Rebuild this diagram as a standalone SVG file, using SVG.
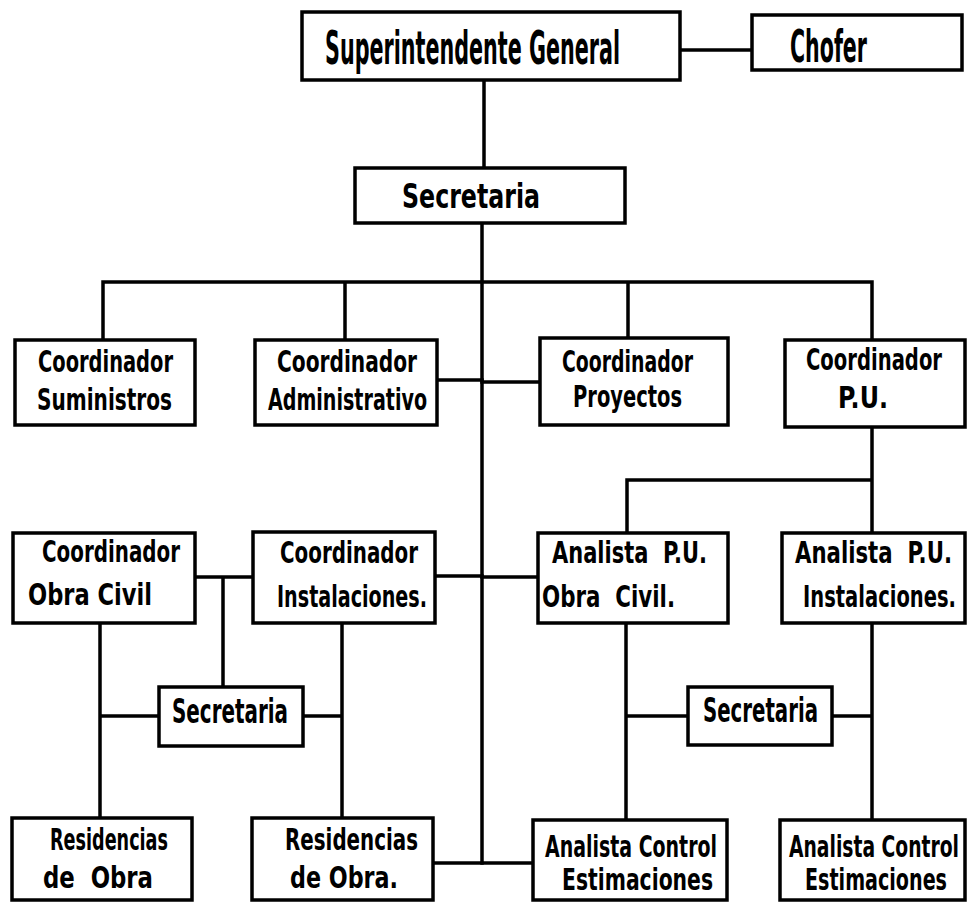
<svg xmlns="http://www.w3.org/2000/svg" width="967" height="904" viewBox="0 0 967 904">
<style>
.box{fill:#fff;stroke:#000;stroke-width:3.5}
.ln{fill:none;stroke:#000;stroke-width:3.5;stroke-linecap:square}
text{font-family:"DejaVu Sans Condensed","Liberation Sans",sans-serif;font-weight:bold;fill:#000}
.t{font-size:30px}
.tb{font-size:46px}
.tc{font-size:44px}
.ts{font-size:34px}
</style>
<rect width="967" height="904" fill="#fff"/>
<g id="connectors">
<path class="ln" d="M484 80 V168 M482 223 V863"/>
<path class="ln" d="M680 50 H752"/>
<path class="ln" d="M103 282 H872 M103 282 V340 M345 282 V340 M628 282 V338 M872 282 V340"/>
<path class="ln" d="M437 380 H482 M482 382 H540"/>
<path class="ln" d="M872 427 V533 M627 480 H872 M627 480 V533"/>
<path class="ln" d="M195 577 H253 M223 577 V687 M435 576 H482 M482 577 H538"/>
<path class="ln" d="M100 623 V818 M342 623 V818 M100 716 H159 M303 716 H342"/>
<path class="ln" d="M626 623 V820 M872 623 V820 M626 716 H688 M832 716 H872"/>
<path class="ln" d="M433 863 H533"/>
</g>
<g id="superintendente">
<rect class="box" x="302" y="12" width="378" height="68"/>
<text class="tb" transform="matrix(0.4933 0 0 1 325 64)" textLength="598" lengthAdjust="spacingAndGlyphs">Superintendente General</text>
</g>
<g id="chofer">
<rect class="box" x="752" y="15" width="210" height="55"/>
<text class="tc" transform="matrix(0.5203 0 0 1 790 62)" textLength="148" lengthAdjust="spacingAndGlyphs">Chofer</text>
</g>
<g id="secretaria-general">
<rect class="box" x="355" y="168" width="270" height="55"/>
<text class="ts" transform="matrix(0.7753 0 0 1 402 208)" textLength="178" lengthAdjust="spacingAndGlyphs">Secretaria</text>
</g>
<g id="coord-suministros">
<rect class="box" x="15" y="340" width="180" height="85"/>
<text class="t" transform="matrix(0.7219 0 0 1 38 372)" textLength="187" lengthAdjust="spacingAndGlyphs">Coordinador</text>
<text class="t" transform="matrix(0.7459 0 0 1 37 410)" textLength="181" lengthAdjust="spacingAndGlyphs">Suministros</text>
</g>
<g id="coord-administrativo">
<rect class="box" x="255" y="340" width="182" height="85"/>
<text class="t" transform="matrix(0.7487 0 0 1 277 372)" textLength="187" lengthAdjust="spacingAndGlyphs">Coordinador</text>
<text class="t" transform="matrix(0.7067 0 0 1 268 410)" textLength="225" lengthAdjust="spacingAndGlyphs">Administrativo</text>
</g>
<g id="coord-proyectos">
<rect class="box" x="540" y="338" width="188" height="87"/>
<text class="t" transform="matrix(0.7005 0 0 1 562 372)" textLength="187" lengthAdjust="spacingAndGlyphs">Coordinador</text>
<text class="t" transform="matrix(0.7219 0 0 1 573 407)" textLength="151" lengthAdjust="spacingAndGlyphs">Proyectos</text>
</g>
<g id="coord-pu">
<rect class="box" x="785" y="340" width="180" height="87"/>
<text class="t" transform="matrix(0.7273 0 0 1 806 370)" textLength="187" lengthAdjust="spacingAndGlyphs">Coordinador</text>
<text class="t" transform="matrix(0.8065 0 0 1 838 408)" textLength="62" lengthAdjust="spacingAndGlyphs">P.U.</text>
</g>
<g id="coord-obra-civil">
<rect class="box" x="13" y="533" width="182" height="90"/>
<text class="t" transform="matrix(0.738 0 0 1 42 562)" textLength="187" lengthAdjust="spacingAndGlyphs">Coordinador</text>
<text class="t" transform="matrix(0.8378 0 0 1 28 605)" textLength="148" lengthAdjust="spacingAndGlyphs">Obra Civil</text>
</g>
<g id="coord-instalaciones">
<rect class="box" x="253" y="532" width="182" height="91"/>
<text class="t" transform="matrix(0.738 0 0 1 280 563)" textLength="187" lengthAdjust="spacingAndGlyphs">Coordinador</text>
<text class="t" transform="matrix(0.7075 0 0 1 277 607)" textLength="212" lengthAdjust="spacingAndGlyphs">Instalaciones.</text>
</g>
<g id="analista-pu-obra-civil">
<rect class="box" x="538" y="533" width="190" height="90"/>
<text class="t" transform="matrix(0.7561 0 0 1 552 563)" textLength="205" lengthAdjust="spacingAndGlyphs" xml:space="preserve">Analista  P.U.</text>
<text class="t" transform="matrix(0.7917 0 0 1 542 607)" textLength="168" lengthAdjust="spacingAndGlyphs" xml:space="preserve">Obra  Civil.</text>
</g>
<g id="analista-pu-instalaciones">
<rect class="box" x="782" y="533" width="183" height="90"/>
<text class="t" transform="matrix(0.7659 0 0 1 795 563)" textLength="205" lengthAdjust="spacingAndGlyphs" xml:space="preserve">Analista  P.U.</text>
<text class="t" transform="matrix(0.7217 0 0 1 803 607)" textLength="212" lengthAdjust="spacingAndGlyphs">Instalaciones.</text>
</g>
<g id="secretaria-obra">
<rect class="box" x="159" y="687" width="144" height="59"/>
<text class="ts" transform="matrix(0.6517 0 0 1 172 723)" textLength="178" lengthAdjust="spacingAndGlyphs">Secretaria</text>
</g>
<g id="secretaria-pu">
<rect class="box" x="688" y="687" width="144" height="58"/>
<text class="ts" transform="matrix(0.6461 0 0 1 703 722)" textLength="178" lengthAdjust="spacingAndGlyphs">Secretaria</text>
</g>
<g id="residencias-1">
<rect class="box" x="12" y="818" width="180" height="82"/>
<text class="t" transform="matrix(0.6519 0 0 1 50 850)" textLength="181" lengthAdjust="spacingAndGlyphs">Residencias</text>
<text class="t" transform="matrix(0.8462 0 0 1 43 888)" textLength="130" lengthAdjust="spacingAndGlyphs" xml:space="preserve">de  Obra</text>
</g>
<g id="residencias-2">
<rect class="box" x="252" y="818" width="181" height="82"/>
<text class="t" transform="matrix(0.7348 0 0 1 285 850)" textLength="181" lengthAdjust="spacingAndGlyphs">Residencias</text>
<text class="t" transform="matrix(0.8244 0 0 1 290 888)" textLength="131" lengthAdjust="spacingAndGlyphs">de Obra.</text>
</g>
<g id="analista-control-1">
<rect class="box" x="533" y="820" width="194" height="80"/>
<text class="t" transform="matrix(0.702 0 0 1 545 857)" textLength="245" lengthAdjust="spacingAndGlyphs">Analista Control</text>
<text class="t" transform="matrix(0.755 0 0 1 562 890)" textLength="200" lengthAdjust="spacingAndGlyphs">Estimaciones</text>
</g>
<g id="analista-control-2">
<rect class="box" x="780" y="820" width="185" height="80"/>
<text class="t" transform="matrix(0.6939 0 0 1 789 857)" textLength="245" lengthAdjust="spacingAndGlyphs">Analista Control</text>
<text class="t" transform="matrix(0.71 0 0 1 805 890)" textLength="200" lengthAdjust="spacingAndGlyphs">Estimaciones</text>
</g>
</svg>
